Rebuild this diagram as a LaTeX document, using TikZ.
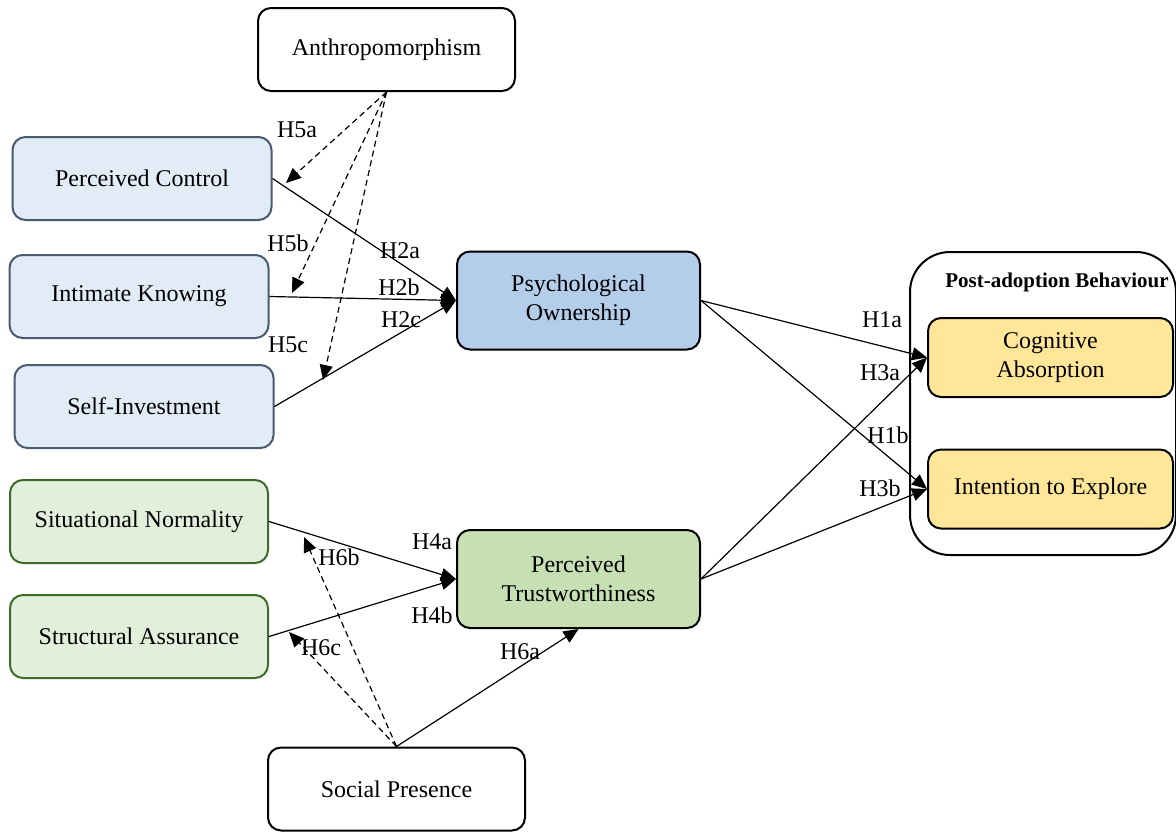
\documentclass[tikz,border=0pt]{standalone}
\usepackage{fontspec}
\setmainfont{Liberation Serif}
\usetikzlibrary{arrows.meta,calc}
\definecolor{bluefill}{HTML}{E2ECF7}
\definecolor{blueborder}{HTML}{4A5A70}
\definecolor{pofill}{HTML}{B4CDEA}
\definecolor{greenfill}{HTML}{E2EFDA}
\definecolor{greenborder}{HTML}{3E6B2A}
\definecolor{ptfill}{HTML}{C6E0B4}
\definecolor{yellowfill}{HTML}{FFE699}
\begin{document}
\begin{tikzpicture}[x=0.5pt,y=-0.5pt,
  box/.style={draw, rounded corners=6.5pt, line width=1pt, align=center, inner sep=0pt,
    font=\fontsize{12}{14.5}\selectfont},
  wbox/.style={box, fill=white, minimum width=128.5pt, minimum height=41.5pt},
  bbox/.style={box, draw=blueborder, fill=bluefill, minimum width=129.5pt, minimum height=41.5pt},
  gbox/.style={box, draw=greenborder, fill=greenfill, minimum width=129pt, minimum height=41.5pt},
  midbox/.style={box, minimum width=121.5pt, minimum height=49pt},
  ybox/.style={box, fill=yellowfill, minimum width=122.5pt, minimum height=39.5pt},
  link/.style={line width=0.6pt, -{Triangle[length=7.5pt,width=6.5pt]}},
  modlink/.style={link, dash pattern=on 3pt off 2pt},
  lab/.style={font=\fontsize{12}{14}\selectfont, inner sep=0pt}
]
\useasboundingbox (0,0) rectangle (1176,831);

% container
\node[draw, line width=1pt, rounded corners=20pt, minimum width=133pt, minimum height=151.5pt, inner sep=0pt] (pab) at (1043,403.5) {};
\node[font=\fontsize{10.5}{12}\selectfont\bfseries, inner sep=0pt] (pabt) at (1057,282) {Post-adoption Behaviour};

% nodes
\node[wbox] (anth) at (386.5,49.5) {Anthropomorphism};
\node[bbox] (pc) at (142,178.5) {Perceived Control};
\node[bbox] (ik) at (139,296.5) {Intimate Knowing};
\node[bbox] (si) at (144,406.5) {Self-Investment};
\node[gbox] (sn) at (139,521.5) {Situational Normality};
\node[gbox] (sa) at (139,636.5) {Structural Assurance};
\node[wbox] (sp) at (396.5,789) {Social Presence};
\node[midbox, fill=pofill] (po) at (578.5,300.5) {Psychological\\Ownership};
\node[midbox, fill=ptfill] (pt) at (578.5,579) {Perceived\\Trustworthiness};
\node[ybox] (ca) at (1050.5,357.5) {Cognitive\\Absorption};
\node[ybox] (ie) at (1050.5,489) {Intention to Explore};

% moderation targets
\coordinate (m5a) at (286,183);
\coordinate (m5b) at (292,293);
\coordinate (m5c) at (323,380);
\coordinate (m6b) at (304,537);
\coordinate (m6c) at (289,632);

% solid paths
\draw[link] (pc.east) -- (po.west);
\draw[link] (ik.east) -- (po.west);
\draw[link] (si.east) -- (po.west);
\draw[link] (sn.east) -- (pt.west);
\draw[link] (sa.east) -- (pt.west);
\draw[link] (sp.north) -- (pt.south);
\draw[link] (po.east) -- (ca.west);
\draw[link] (po.east) -- (ie.west);
\draw[link] (pt.east) -- (ca.west);
\draw[link] (pt.east) -- (ie.west);

% dashed moderation
\draw[modlink] (anth.south) -- (m5a);
\draw[modlink] (anth.south) -- (m5b);
\draw[modlink] (anth.south) -- (m5c);
\draw[modlink] (sp.north) -- (m6b);
\draw[modlink] (sp.north) -- (m6c);

% labels
\node[lab] (l5a) at (297,130) {H5a};
\node[lab] (l5b) at (288,243) {H5b};
\node[lab] (l5c) at (288,345) {H5c};
\node[lab] (l2a) at (400,251) {H2a};
\node[lab] (l2b) at (399,287) {H2b};
\node[lab] (l2c) at (401,320) {H2c};
\node[lab] (l6b) at (339,557) {H6b};
\node[lab] (l6c) at (321,648) {H6c};
\node[lab] (l4a) at (432,542) {H4a};
\node[lab] (l4b) at (432,615) {H4b};
\node[lab] (l6a) at (520,652) {H6a};
\node[lab] (l1a) at (882,320) {H1a};
\node[lab] (l3a) at (880,373) {H3a};
\node[lab] (l1b) at (888,435) {H1b};
\node[lab] (l3b) at (880,488) {H3b};
\end{tikzpicture}
\end{document}
